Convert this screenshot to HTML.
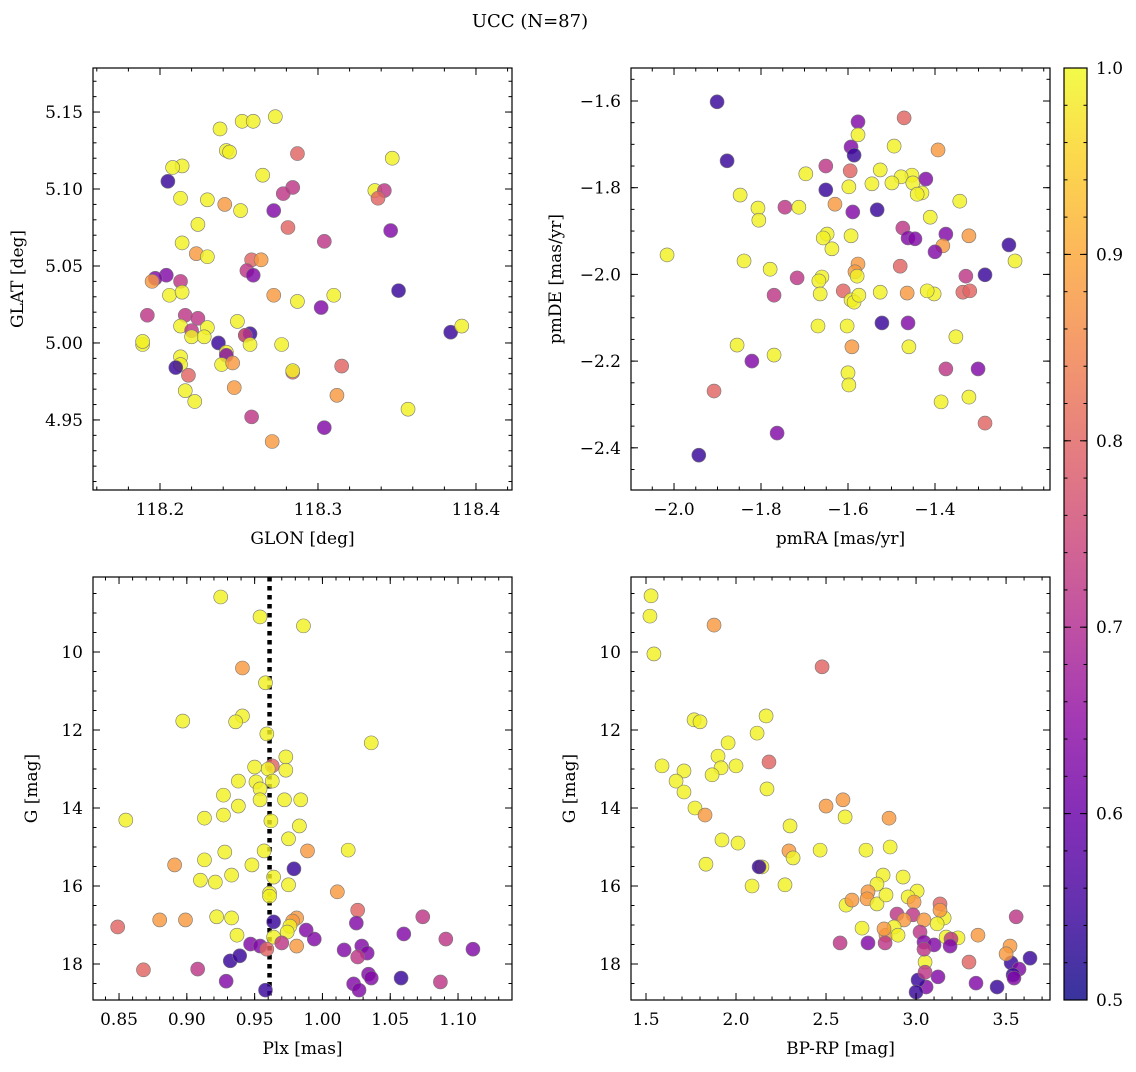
<!DOCTYPE html>
<html><head><meta charset="utf-8"><style>
html,body{margin:0;padding:0;background:#fff;}
svg text{font-family:"DejaVu Serif","Liberation Serif",serif;fill:#000;}
</style></head><body>
<svg id="fig" width="1136" height="1067" xmlns="http://www.w3.org/2000/svg">
<defs>
<linearGradient id="cbgrad" x1="0" y1="1" x2="0" y2="0">
<stop offset="0" stop-color="#0d0887"/><stop offset="0.1" stop-color="#41049d"/><stop offset="0.2" stop-color="#6a00a8"/><stop offset="0.3" stop-color="#8f0da4"/><stop offset="0.4" stop-color="#b12a90"/><stop offset="0.5" stop-color="#cc4778"/><stop offset="0.6" stop-color="#e16462"/><stop offset="0.7" stop-color="#f2844b"/><stop offset="0.8" stop-color="#fca636"/><stop offset="0.9" stop-color="#fcce25"/><stop offset="1" stop-color="#f0f921"/>
</linearGradient>
</defs>
<text x="530" y="27" font-size="18" text-anchor="middle">UCC (N=87)</text>
</svg>
<script>
// ---- data ----
const tlGlon=[118.273,118.238,118.252,118.259,118.214,118.208,118.242,118.244,118.287,118.347,118.265,118.205,118.336,118.342,118.338,118.284,118.278,118.230,118.213,118.241,118.251,118.272,118.281,118.224,118.346,118.214,118.304,118.223,118.258,118.230,118.264,118.255,118.259,118.204,118.197,118.195,118.213,118.206,118.214,118.272,118.287,118.310,118.351,118.302,118.192,118.216,118.224,118.213,118.230,118.249,118.220,118.220,118.228,118.254,118.257,118.237,118.254,118.257,118.189,118.189,118.277,118.242,118.213,118.384,118.391,118.242,118.213,118.239,118.246,118.210,118.284,118.284,118.315,118.218,118.247,118.216,118.222,118.312,118.357,118.258,118.304,118.271];
const tlGlat=[5.147,5.139,5.144,5.144,5.115,5.114,5.125,5.124,5.123,5.120,5.109,5.105,5.099,5.099,5.094,5.101,5.097,5.093,5.094,5.090,5.086,5.086,5.075,5.077,5.073,5.065,5.066,5.058,5.054,5.056,5.054,5.047,5.044,5.044,5.042,5.040,5.040,5.031,5.033,5.031,5.027,5.031,5.034,5.023,5.018,5.018,5.016,5.011,5.010,5.014,5.008,5.004,5.004,5.005,5.006,5.000,5.005,4.999,4.999,5.001,4.999,4.994,4.991,5.007,5.011,4.992,4.986,4.986,4.987,4.984,4.981,4.982,4.985,4.979,4.971,4.969,4.962,4.966,4.957,4.952,4.945,4.936];
const tlProb=[.99,.99,.99,.99,.99,.99,.99,.99,.8,.99,.99,.54,.99,.72,.8,.72,.72,.99,.99,.88,.99,.63,.8,.99,.63,.99,.72,.88,.8,.99,.88,.72,.63,.63,.63,.88,.72,.99,.99,.88,.99,.99,.54,.63,.72,.72,.72,.99,.99,.99,.72,.99,.99,.99,.54,.54,.72,.99,.99,.99,.99,.99,.99,.54,.99,.63,.99,.99,.88,.54,.8,.99,.8,.8,.88,.99,.99,.88,.99,.72,.63,.88];

const trPmra=[-1.901,-1.471,-1.577,-1.577,-1.593,-1.494,-1.586,-1.393,-1.878,-1.453,-1.478,-1.451,-1.651,-1.697,-1.526,-1.545,-1.499,-1.421,-1.598,-1.651,-1.595,-1.430,-1.441,-1.848,-1.630,-1.343,-1.807,-1.745,-1.713,-1.805,-1.533,-1.589,-1.411,-1.648,-1.657,-1.593,-1.474,-1.462,-1.446,-1.375,-1.322,-1.382,-1.230,-2.016,-1.577,-1.584,-1.637,-1.779,-1.839,-1.400,-1.660,-1.480,-1.667,-1.717,-1.579,-1.216,-1.770,-1.611,-1.664,-1.593,-1.586,-1.575,-1.464,-1.402,-1.285,-1.418,-1.336,-1.526,-1.320,-1.329,-1.669,-1.602,-1.522,-1.462,-1.352,-1.460,-1.591,-1.855,-1.770,-1.821,-1.600,-1.598,-1.301,-1.375,-1.386,-1.322,-1.908,-1.285,-1.763,-1.943];
const trPmde=[-1.602,-1.639,-1.648,-1.678,-1.706,-1.704,-1.725,-1.713,-1.738,-1.771,-1.775,-1.789,-1.750,-1.768,-1.759,-1.791,-1.789,-1.780,-1.798,-1.805,-1.761,-1.812,-1.815,-1.817,-1.838,-1.831,-1.847,-1.845,-1.845,-1.875,-1.851,-1.856,-1.868,-1.907,-1.916,-1.911,-1.893,-1.916,-1.918,-1.907,-1.911,-1.934,-1.932,-1.955,-1.976,-1.994,-1.941,-1.988,-1.969,-1.948,-2.006,-1.981,-2.015,-2.008,-2.004,-1.969,-2.048,-2.038,-2.045,-2.059,-2.064,-2.048,-2.043,-2.045,-2.001,-2.038,-2.041,-2.041,-2.038,-2.004,-2.119,-2.119,-2.112,-2.112,-2.144,-2.167,-2.167,-2.163,-2.186,-2.200,-2.227,-2.255,-2.218,-2.218,-2.294,-2.283,-2.269,-2.343,-2.366,-2.417];
const trProb=[.54,.8,.63,.99,.63,.99,.54,.88,.54,.99,.99,.99,.72,.99,.99,.99,.99,.63,.99,.54,.8,.99,.99,.99,.88,.99,.99,.72,.99,.99,.54,.63,.99,.99,.99,.99,.72,.63,.63,.63,.88,.88,.54,.99,.88,.88,.99,.99,.99,.63,.99,.8,.99,.72,.99,.99,.72,.8,.99,.99,.99,.99,.88,.99,.54,.99,.8,.99,.8,.72,.99,.99,.54,.63,.99,.99,.88,.99,.99,.63,.99,.99,.63,.72,.99,.99,.8,.8,.63,.54];

const blPlx=[0.925,0.954,0.986,0.941,0.958,0.941,0.897,0.936,0.959,1.036,0.973,0.963,0.973,0.950,0.960,0.951,0.954,0.938,0.963,0.984,0.927,0.954,0.938,0.972,0.855,0.913,0.927,0.962,0.983,0.975,0.989,0.928,0.957,1.019,0.933,0.913,0.891,0.948,0.979,0.964,0.921,0.910,0.975,0.961,1.011,0.961,1.026,0.880,0.922,0.899,0.933,0.981,0.978,0.976,0.964,1.074,0.849,0.974,1.025,0.988,0.937,0.964,1.060,0.994,1.091,0.947,0.954,0.959,0.970,0.981,1.029,1.016,1.111,0.908,0.868,0.932,1.033,1.026,1.034,1.036,1.058,0.939,0.929,1.023,1.027,1.087,0.958];
const blG=[8.59,9.10,9.33,10.41,10.79,11.64,11.77,11.79,12.10,12.33,12.69,12.92,13.03,12.95,13.00,13.33,13.51,13.31,13.31,13.79,13.67,13.79,13.95,13.79,14.31,14.26,14.18,14.33,14.46,14.79,15.10,15.13,15.10,15.08,15.72,15.33,15.46,15.46,15.56,15.77,15.90,15.85,15.97,16.18,16.15,16.26,16.62,16.87,16.79,16.87,16.82,16.82,16.90,17.03,16.92,16.79,17.05,17.18,16.95,17.13,17.26,17.31,17.23,17.36,17.36,17.49,17.54,17.62,17.46,17.54,17.54,17.64,17.62,18.13,18.15,17.92,17.72,17.82,18.26,18.36,18.36,17.79,18.44,18.51,18.67,18.46,18.67];
const blProb=[.99,.99,.99,.88,.99,.99,.99,.99,.99,.99,.99,.8,.99,.99,.99,.99,.99,.99,.99,.99,.99,.99,.99,.99,.99,.99,.99,.99,.99,.99,.88,.99,.99,.99,.99,.99,.88,.99,.54,.99,.99,.99,.99,.99,.88,.99,.8,.88,.99,.88,.99,.88,.88,.99,.54,.72,.8,.99,.63,.63,.99,.99,.63,.63,.72,.63,.63,.8,.72,.88,.63,.63,.63,.72,.8,.54,.63,.72,.63,.63,.54,.54,.63,.63,.63,.72,.54];
const plxMedian=0.961;

const brColor=[1.528,1.522,1.878,1.544,2.478,1.767,1.800,2.167,1.956,2.117,1.900,1.917,2.000,2.183,1.589,1.711,1.667,1.867,1.711,2.172,1.772,1.828,2.594,2.500,2.606,2.300,2.850,2.294,1.922,2.467,2.011,2.317,2.856,2.722,2.144,1.833,2.128,2.817,2.089,2.783,2.733,2.728,2.783,2.928,2.611,2.644,2.272,3.006,2.956,2.989,2.833,3.133,3.156,3.133,2.983,3.556,2.894,2.933,3.044,3.117,3.022,2.833,2.878,2.822,2.700,2.900,3.044,3.233,3.167,3.194,3.344,3.522,3.100,3.189,3.050,3.294,3.528,3.572,2.578,2.733,2.828,3.044,3.539,3.500,3.633,3.544,3.056,3.011,3.333,3.000,3.450,3.050,3.122];
const brG=[8.56,9.08,9.31,10.05,10.38,11.74,11.79,11.64,12.33,12.08,12.67,12.97,12.92,12.82,12.92,13.05,13.31,13.15,13.59,13.51,14.00,14.18,13.79,13.95,14.23,14.46,14.26,15.10,14.82,15.08,14.90,15.28,15.00,15.08,15.51,15.44,15.51,15.72,16.00,15.95,16.15,16.33,16.46,15.77,16.49,16.36,15.97,16.13,16.28,16.41,16.23,16.46,16.82,16.62,16.74,16.79,16.72,16.87,16.87,16.97,17.18,17.26,17.05,17.10,17.08,17.26,17.44,17.33,17.31,17.36,17.26,17.54,17.51,17.54,17.95,17.95,17.97,18.13,17.46,17.46,17.46,17.62,18.28,17.74,17.85,18.36,18.59,18.41,18.49,18.72,18.59,18.21,18.33];
const brProb=[.99,.99,.88,.99,.8,.99,.99,.99,.99,.99,.99,.99,.99,.8,.99,.99,.99,.99,.99,.99,.99,.88,.88,.88,.99,.99,.88,.88,.99,.99,.99,.99,.99,.99,.99,.99,.54,.99,.99,.99,.88,.88,.99,.99,.99,.88,.99,.99,.99,.88,.99,.8,.99,.88,.72,.72,.72,.88,.88,.99,.72,.88,.99,.88,.99,.99,.63,.99,.99,.72,.88,.88,.63,.63,.99,.8,.54,.63,.72,.63,.72,.72,.54,.88,.54,.63,.63,.54,.63,.54,.54,.72,.63];

const cbTicks=[0.5,0.6,0.7,0.8,0.9,1.0];

// ---- rendering ----
const NS="http://www.w3.org/2000/svg";
const svg=document.getElementById('fig');
const FS=17;
function mk(tag,attrs,parent){const e=document.createElementNS(NS,tag);for(const k in attrs)e.setAttribute(k,attrs[k]);(parent||svg).appendChild(e);return e;}
const stops=[[13,8,135],[65,4,157],[106,0,168],[143,13,164],[177,42,144],[204,71,120],[225,100,98],[242,132,75],[252,166,54],[252,206,37],[240,249,33]];
function plasma(v){let t=Math.max(0,Math.min(1,(v-0.5)/0.5))*10;const i=Math.min(9,Math.floor(t));const f=t-i;const a=stops[i],b=stops[i+1];return 'rgb('+a.map((c,k)=>Math.round(c+(b[k]-c)*f)).join(',')+')';}
function fmt(v,d){let s=v.toFixed(d);return s.replace('-','\u2212');}

function panel(o){
  const g=mk('g',{});
  
  
  const sx=v=>o.x0+(v-o.xmin)/(o.xmax-o.xmin)*(o.x1-o.x0);
  const sy=o.yinv?(v=>o.y0+(v-o.ymin)/(o.ymax-o.ymin)*(o.y1-o.y0)):(v=>o.y1-(v-o.ymin)/(o.ymax-o.ymin)*(o.y1-o.y0));
  if(o.extra)o.extra(g,sx,sy);
  for(let i=0;i<o.xs.length;i++){
    const c=mk('circle',{cx:sx(o.xs[i]),cy:sy(o.ys[i]),r:7,fill:plasma(o.cs[i]),'fill-opacity':0.82,stroke:'#777','stroke-width':0.6},g);
    
    
  }
  const fr=mk('rect',{x:o.x0,y:o.y0,width:o.x1-o.x0,height:o.y1-o.y0,fill:'none',stroke:'#000','stroke-width':1.2},g);
  
  
  const tk=mk('g',{stroke:'#000','stroke-width':1},g);
  const lo=Math.min(o.xmin,o.xmax),hi=Math.max(o.xmin,o.xmax);
  for(let v=Math.ceil(lo/o.xminor-1e-6)*o.xminor;v<=hi+1e-9;v+=o.xminor){const x=sx(v);
    mk('line',{x1:x,x2:x,y1:o.y1,y2:o.y1-3.5},tk);mk('line',{x1:x,x2:x,y1:o.y0,y2:o.y0+3.5},tk);}
  for(const v of o.xticks){const x=sx(v);
    mk('line',{x1:x,x2:x,y1:o.y1,y2:o.y1-7},tk);mk('line',{x1:x,x2:x,y1:o.y0,y2:o.y0+7},tk);
    const t=mk('text',{x:x,y:o.y1+25,'font-size':FS,'text-anchor':'middle'},g);t.textContent=fmt(v,o.xd);
    
    }
  const ylo=Math.min(o.ymin,o.ymax),yhi=Math.max(o.ymin,o.ymax);
  for(let v=Math.ceil(ylo/o.yminor-1e-6)*o.yminor;v<=yhi+1e-9;v+=o.yminor){const y=sy(v);
    mk('line',{x1:o.x0,x2:o.x0+3.5,y1:y,y2:y},tk);mk('line',{x1:o.x1,x2:o.x1-3.5,y1:y,y2:y},tk);}
  for(const v of o.yticks){const y=sy(v);
    mk('line',{x1:o.x0,x2:o.x0+7,y1:y,y2:y},tk);mk('line',{x1:o.x1,x2:o.x1-7,y1:y,y2:y},tk);
    const t=mk('text',{x:o.x0-10,y:y+6,'font-size':FS,'text-anchor':'end'},g);t.textContent=fmt(v,o.yd);
    
    }
  const xl=mk('text',{x:(o.x0+o.x1)/2,y:o.y1+54,'font-size':FS,'text-anchor':'middle'},g);xl.textContent=o.xlabel;
  
  
  const yx=o.x0-o.ylabOff,ym=(o.y0+o.y1)/2;
  const yl=mk('text',{x:yx,y:ym,'font-size':FS,'text-anchor':'middle',transform:'rotate(-90 '+yx+' '+ym+')'},g);yl.textContent=o.ylabel;
  
  
}

panel({name:'glon-glat-panel',x0:93,x1:512,y0:68,y1:490,xmin:118.1576,xmax:118.4228,ymin:4.9045,ymax:5.1786,
  xticks:[118.2,118.3,118.4],xminor:0.02,xd:1,yticks:[4.95,5.00,5.05,5.10,5.15],yminor:0.01,yd:2,
  xs:tlGlon,ys:tlGlat,cs:tlProb,xlabel:'GLON [deg]',ylabel:'GLAT [deg]',ylabOff:70});
panel({name:'pm-panel',x0:631,x1:1050,y0:68,y1:490,xmin:-2.0989,xmax:-1.1356,ymin:-2.4973,ymax:-1.5239,
  xticks:[-2.0,-1.8,-1.6,-1.4],xminor:0.05,xd:1,yticks:[-2.4,-2.2,-2.0,-1.8,-1.6],yminor:0.05,yd:1,
  xs:trPmra,ys:trPmde,cs:trProb,xlabel:'pmRA [mas/yr]',ylabel:'pmDE [mas/yr]',ylabOff:70});
panel({name:'plx-g-panel',x0:93,x1:512,y0:577,y1:1000,xmin:0.8308,xmax:1.1398,ymin:8.077,ymax:18.923,yinv:true,
  xticks:[0.85,0.90,0.95,1.00,1.05,1.10],xminor:0.01,xd:2,yticks:[10,12,14,16,18],yminor:0.5,yd:0,
  xs:blPlx,ys:blG,cs:blProb,xlabel:'Plx [mas]',ylabel:'G [mag]',ylabOff:56,
  extra:(g,sx,sy)=>{const l=mk('line',{x1:sx(plxMedian),x2:sx(plxMedian),y1:577,y2:1000,stroke:'#000','stroke-width':4.5,'stroke-dasharray':'4.5 4.5'},g);
    
    }});
panel({name:'cmd-panel',x0:631,x1:1050,y0:577,y1:1000,xmin:1.4167,xmax:3.744,ymin:8.077,ymax:18.923,yinv:true,
  xticks:[1.5,2.0,2.5,3.0,3.5],xminor:0.1,xd:1,yticks:[10,12,14,16,18],yminor:0.5,yd:0,
  xs:brColor,ys:brG,cs:brProb,xlabel:'BP-RP [mag]',ylabel:'G [mag]',ylabOff:56});

// colorbar
const cb=mk('g',{});


mk('rect',{x:1064,y:68,width:23,height:932,fill:'url(#cbgrad)','fill-opacity':0.82},cb);
mk('rect',{x:1064,y:68,width:23,height:932,fill:'none',stroke:'#000','stroke-width':1.2},cb);
const cby=v=>1000-(v-0.5)/0.5*932;
for(let v=0.52;v<1.0;v+=0.02){const y=cby(v);mk('line',{x1:1064,x2:1067.5,y1:y,y2:y,stroke:'#000'},cb);mk('line',{x1:1087,x2:1083.5,y1:y,y2:y,stroke:'#000'},cb);}
for(const v of cbTicks){const y=cby(v);
  mk('line',{x1:1064,x2:1071,y1:y,y2:y,stroke:'#000'},cb);mk('line',{x1:1087,x2:1080,y1:y,y2:y,stroke:'#000'},cb);
  const t=mk('text',{x:1096,y:y+6,'font-size':FS},cb);t.textContent=v.toFixed(1);
  
  }
</script>
</body></html>
